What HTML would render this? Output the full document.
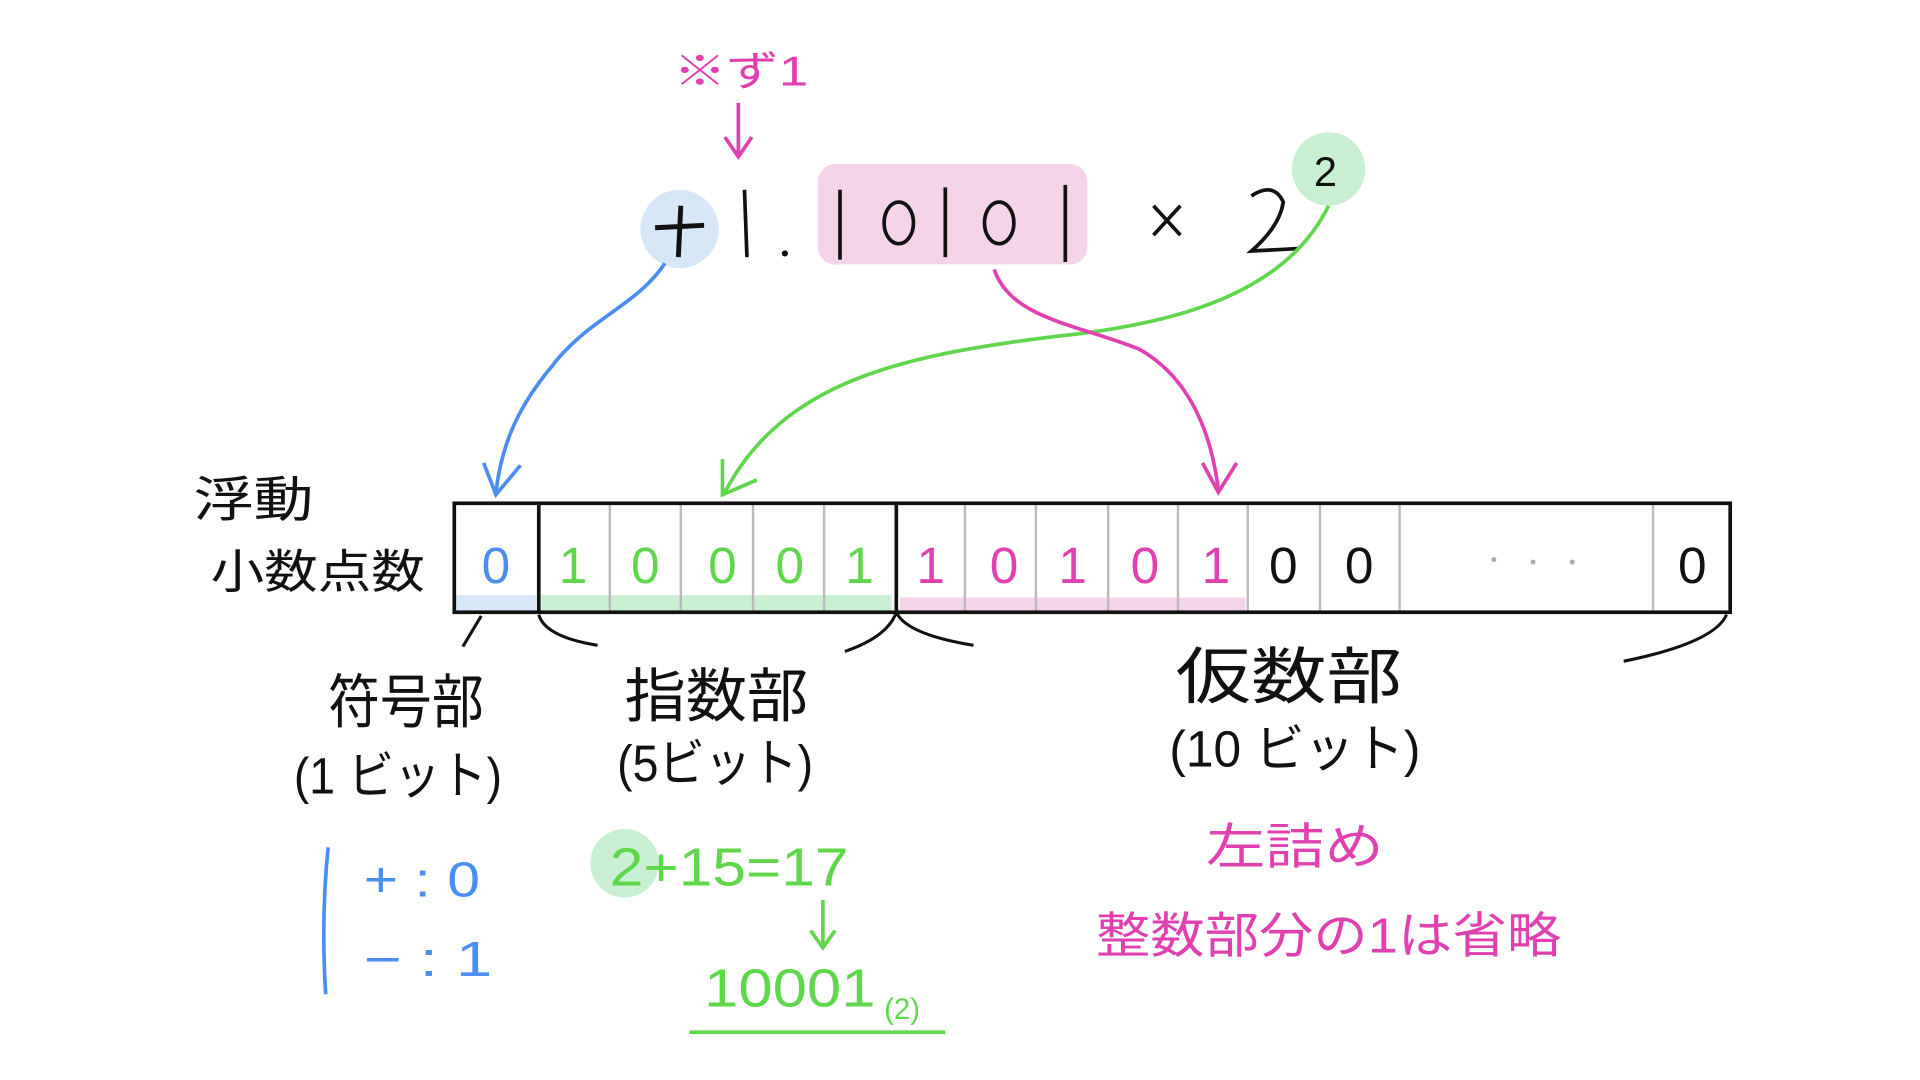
<!DOCTYPE html>
<html><head><meta charset="utf-8"><style>
html,body{margin:0;padding:0;background:#fff;}
svg{display:block}
text{font-family:"Liberation Sans","Noto Sans CJK JP",sans-serif;}
</style></head><body>
<svg width="1920" height="1080" viewBox="0 0 1568 882" preserveAspectRatio="none" xmlns="http://www.w3.org/2000/svg">
<rect width="1568" height="882" fill="#fff"/>
<text x="550" y="70" font-size="34" fill="#e040b0" textLength="110" lengthAdjust="spacingAndGlyphs">※ず1</text>
<path d="M603 84 L603 126 M592 112 L603 128 L614 112" stroke="#e040b0" stroke-width="3" fill="none"/>
<circle cx="555" cy="187" r="32" fill="#d8e7f8"/>
<path d="M535 186 L575 184 M556 168 L554 210" stroke="#111" stroke-width="4"/>
<path d="M608 155 L610 210" stroke="#111" stroke-width="3"/>
<circle cx="641" cy="207" r="2.5" fill="#111"/>
<rect x="668" y="134" width="220" height="82" rx="14" fill="#f5d3e8"/>
<g stroke="#111" stroke-width="3" fill="none">
<path d="M686 155 L686 212 M772 153 L772 210 M870 151 L870 214"/>
<ellipse cx="734" cy="182" rx="12" ry="17"/>
<ellipse cx="816" cy="182" rx="12" ry="17"/>
<path d="M942 168 L964 192 M964 168 L942 192"/>
<path d="M1022 160 Q1040 148 1048 165 Q1045 185 1022 205 L1060 203"/>
</g>
<circle cx="1085" cy="138" r="30" fill="#c9f0d3"/>
<text x="1073" y="152" font-size="34" fill="#111">2</text>
<path d="M543 215 C520 250 480 260 450 300 C425 330 410 360 405 402" stroke="#4a8ef0" stroke-width="3" fill="none"/>
<path d="M395 378 L405 404 L425 380" stroke="#4a8ef0" stroke-width="3" fill="none"/>
<path d="M1085 168 C1050 240 960 265 860 275 C740 290 640 310 592 402" stroke="#5ed84a" stroke-width="3" fill="none"/>
<path d="M590 375 L590 404 L618 392" stroke="#5ed84a" stroke-width="3" fill="none"/>
<path d="M812 220 C825 260 880 265 930 285 C975 310 990 360 995 400" stroke="#e040b0" stroke-width="3" fill="none"/>
<path d="M982 378 L995 402 L1010 378" stroke="#e040b0" stroke-width="3" fill="none"/>
<text x="158" y="422" font-size="40" fill="#111" textLength="98" lengthAdjust="spacingAndGlyphs">浮動</text>
<text x="172" y="480" font-size="38" fill="#111" textLength="175" lengthAdjust="spacingAndGlyphs">小数点数</text>
<rect x="372" y="486" width="66" height="14" fill="#d8e7f8"/>
<rect x="442" y="486" width="286" height="14" fill="#c9f0d3"/>
<rect x="735" y="488" width="282" height="12" fill="#f5d3e8"/>
<g stroke="#bbb" stroke-width="2">
<path d="M498 412V500 M556 412V500 M615 412V500 M673 412V500 M788 412V500 M846 412V500 M905 412V500 M962 412V500 M1019 412V500 M1078 412V500 M1143 412V500 M1350 412V500"/>
</g>
<rect x="371" y="411" width="1042" height="89" fill="none" stroke="#111" stroke-width="3"/>
<path d="M440 411V500 M732 411V500" stroke="#111" stroke-width="3"/>
<g font-size="42" text-anchor="middle">
<text x="405" y="476" fill="#4a8ef0">0</text>
<g fill="#5ed84a"><text x="468" y="476">1</text><text x="527" y="476">0</text><text x="590" y="476">0</text><text x="645" y="476">0</text><text x="702" y="476">1</text></g>
<g fill="#e040b0"><text x="760" y="476">1</text><text x="820" y="476">0</text><text x="876" y="476">1</text><text x="935" y="476">0</text><text x="993" y="476">1</text></g>
<g fill="#111"><text x="1048" y="476">0</text><text x="1110" y="476">0</text><text x="1382" y="476">0</text></g>
</g>
<g fill="#aaa"><circle cx="1220" cy="457" r="2"/><circle cx="1252" cy="459" r="2"/><circle cx="1284" cy="459" r="2"/></g>
<g stroke="#111" stroke-width="2.5" fill="none">
<path d="M393 503 L378 528"/>
<path d="M440 502 Q445 520 488 527"/>
<path d="M732 500 Q725 520 690 532"/>
<path d="M732 500 Q740 518 795 527"/>
<path d="M1410 502 Q1400 525 1326 540"/>
</g>
<text x="268" y="590" font-size="48" fill="#111" textLength="127" lengthAdjust="spacingAndGlyphs">符号部</text>
<text x="240" y="648" font-size="42" fill="#111" textLength="170" lengthAdjust="spacingAndGlyphs">(1 ビット)</text>
<text x="510" y="585" font-size="48" fill="#111" textLength="150" lengthAdjust="spacingAndGlyphs">指数部</text>
<text x="504" y="638" font-size="42" fill="#111" textLength="160" lengthAdjust="spacingAndGlyphs">(5ビット)</text>
<text x="960" y="570" font-size="50" fill="#111" textLength="185" lengthAdjust="spacingAndGlyphs">仮数部</text>
<text x="955" y="626" font-size="42" fill="#111" textLength="205" lengthAdjust="spacingAndGlyphs">(10 ビット)</text>
<path d="M268 692 Q262 750 266 812" stroke="#4a8ef0" stroke-width="3" fill="none"/>
<text x="297" y="732" font-size="40" fill="#4a8ef0" textLength="95" lengthAdjust="spacingAndGlyphs">+ : 0</text>
<text x="297" y="797" font-size="40" fill="#4a8ef0" textLength="105" lengthAdjust="spacingAndGlyphs">− : 1</text>
<circle cx="510" cy="705" r="28" fill="#c9f0d3"/>
<text x="498" y="723" font-size="44" fill="#5ed84a" textLength="195" lengthAdjust="spacingAndGlyphs">2+15=17</text>
<path d="M672 735 L672 772 M662 760 L672 774 L682 760" stroke="#5ed84a" stroke-width="3" fill="none"/>
<text x="575" y="822" font-size="44" fill="#5ed84a" textLength="140" lengthAdjust="spacingAndGlyphs">10001</text>
<text x="722" y="832" font-size="24" fill="#5ed84a">(2)</text>
<path d="M563 843 L772 843" stroke="#5ed84a" stroke-width="3"/>
<text x="985" y="705" font-size="40" fill="#e040b0" textLength="145" lengthAdjust="spacingAndGlyphs">左詰め</text>
<text x="895" y="778" font-size="40" fill="#e040b0" textLength="380" lengthAdjust="spacingAndGlyphs">整数部分の1は省略</text>
</svg>
</body></html>
